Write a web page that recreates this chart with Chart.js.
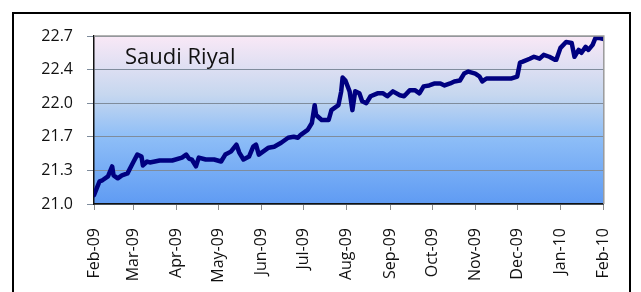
<!DOCTYPE html>
<html>
<head>
<meta charset="utf-8">
<script src="https://cdn.jsdelivr.net/npm/chart.js@4"></script>
<style>
  html, body { margin: 0; padding: 0; background: #fff; }
  #wrap { width: 641px; height: 292px; }
</style>
</head>
<body>
<div id="wrap"><canvas id="riyalChart" width="641" height="292"></canvas></div>
<script>
// days counted from 1 Feb 2009
const days = [0, 2, 4, 6, 10, 13, 14, 17, 20, 24, 28, 31, 34, 35, 38, 40, 47, 56, 63, 66, 68, 70, 73, 75, 80, 86, 91, 94, 98, 102, 104, 107, 111, 114, 116, 118, 121, 125, 129, 134, 139, 143, 146, 148, 153, 156, 158, 159, 163, 168, 170, 175, 177, 178, 180, 183, 185, 187, 190, 192, 195, 198, 203, 207, 210, 214, 219, 222, 226, 230, 233, 236, 240, 244, 248, 251, 255, 258, 262, 265, 268, 273, 276, 278, 281, 286, 292, 299, 303, 305, 307, 312, 315, 319, 322, 326, 330, 331, 334, 338, 342, 344, 347, 349, 352, 354, 357, 359, 362, 365];
const rates = [21.09, 21.16, 21.23, 21.24, 21.28, 21.38, 21.29, 21.26, 21.29, 21.31, 21.42, 21.50, 21.48, 21.39, 21.43, 21.42, 21.44, 21.44, 21.47, 21.50, 21.46, 21.45, 21.38, 21.47, 21.45, 21.45, 21.43, 21.50, 21.53, 21.60, 21.52, 21.45, 21.48, 21.58, 21.60, 21.50, 21.53, 21.57, 21.58, 21.62, 21.67, 21.68, 21.67, 21.70, 21.75, 21.82, 22.00, 21.90, 21.85, 21.85, 21.95, 22.00, 22.14, 22.28, 22.25, 22.14, 21.95, 22.14, 22.12, 22.04, 22.02, 22.09, 22.12, 22.12, 22.09, 22.14, 22.10, 22.09, 22.15, 22.15, 22.12, 22.19, 22.20, 22.22, 22.22, 22.20, 22.22, 22.24, 22.25, 22.32, 22.34, 22.32, 22.29, 22.24, 22.27, 22.27, 22.27, 22.27, 22.29, 22.43, 22.44, 22.47, 22.49, 22.47, 22.51, 22.49, 22.46, 22.46, 22.58, 22.64, 22.63, 22.49, 22.56, 22.53, 22.59, 22.56, 22.61, 22.68, 22.68, 22.67];

const monthDays = [0, 28, 59, 89, 120, 150, 181, 212, 242, 273, 303, 334, 365];
const monthLabels = ['Feb-09', 'Mar-09', 'Apr-09', 'May-09', 'Jun-09', 'Jul-09', 'Aug-09', 'Sep-09', 'Oct-09', 'Nov-09', 'Dec-09', 'Jan-10', 'Feb-10'];
const yTicks = [21.0, 21.34, 21.68, 22.02, 22.36, 22.7];

const chartTitle = 'Saudi Riyal';

// plot background gradient, frame and title
const decor = {
  id: 'decor',
  beforeDraw(chart) {
    const { ctx, chartArea: a } = chart;
    const g = ctx.createLinearGradient(0, a.top, 0, a.bottom);
    g.addColorStop(0, '#f9e8f6');
    g.addColorStop(0.35, '#c6d7ef');
    g.addColorStop(0.6, '#8ebef7');
    g.addColorStop(1, '#5f9bf3');
    ctx.save();
    ctx.fillStyle = g;
    ctx.fillRect(a.left, a.top, a.right - a.left, a.bottom - a.top);
    ctx.restore();
  },
  afterDraw(chart) {
    const { ctx, chartArea: a } = chart;
    ctx.save();
    ctx.strokeStyle = '#9a9a9a';
    ctx.lineWidth = 1.5;
    ctx.beginPath();
    ctx.moveTo(a.left, a.top);
    ctx.lineTo(a.right, a.top);
    ctx.lineTo(a.right, a.bottom);
    ctx.stroke();

    ctx.strokeStyle = '#000';
    ctx.lineWidth = 2;
    ctx.strokeRect(13, 13, 617, 300);

    ctx.fillStyle = '#111';
    ctx.font = '22px "Open Sans"';
    ctx.textBaseline = 'alphabetic';
    ctx.fillText(chartTitle, 125, 64);
    ctx.restore();
  }
};

const ctx = document.getElementById('riyalChart').getContext('2d');

new Chart(ctx, {
  type: 'line',
  data: {
    datasets: [{
      label: chartTitle,
      data: days.map((d, i) => ({ x: d, y: rates[i] })),
      borderColor: '#000080',
      borderWidth: 4.5,
      pointRadius: 0,
      tension: 0,
      borderJoinStyle: 'round',
      borderCapStyle: 'round'
    }]
  },
  options: {
    responsive: false,
    animation: false,
    layout: { padding: { left: 0, top: 36, right: 32, bottom: 0 } },
    plugins: {
      legend: { display: false },
      tooltip: { enabled: false }
    },
    scales: {
      x: {
        type: 'linear',
        min: 0,
        max: 365,
        afterFit: (scale) => { scale.height = 88; },
        afterBuildTicks: (scale) => {
          scale.ticks = monthDays.map(v => ({ value: v }));
        },
        ticks: {
          autoSkip: false,
          minRotation: 90,
          maxRotation: 90,
          padding: 18,
          color: '#111',
          font: { family: '"Open Sans"', size: 16 },
          callback: (value) => monthLabels[monthDays.indexOf(value)]
        },
        grid: {
          drawOnChartArea: false,
          drawTicks: true,
          tickLength: 6,
          color: '#8c8c8c'
        },
        border: { color: '#111', width: 1.5 }
      },
      y: {
        min: 21.0,
        max: 22.7,
        afterFit: (scale) => { scale.width = 94; },
        afterBuildTicks: (scale) => {
          scale.ticks = yTicks.map(v => ({ value: v }));
        },
        ticks: {
          padding: 14,
          color: '#111',
          font: { family: '"Open Sans"', size: 16 },
          callback: (value) => value.toFixed(1)
        },
        grid: {
          color: '#7f8c9c',
          lineWidth: 1,
          tickLength: 7
        },
        border: { color: '#111', width: 1.5 }
      }
    }
  },
  plugins: [decor]
});
</script>
</body>
</html>
